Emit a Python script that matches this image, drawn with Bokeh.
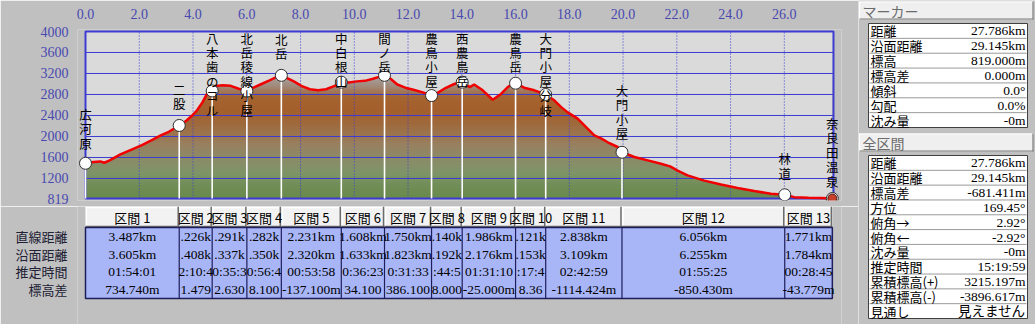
import numpy as np
from bokeh.plotting import figure
from bokeh.models import Range1d, FixedTicker, PrintfTickFormatter, Label
from bokeh.layouts import row, column
from bokeh.core.properties import value
from bokeh.embed import file_html
from bokeh.resources import INLINE

# ---------------- data ----------------
profile_km = [0.00, 0.30, 0.55, 0.70, 0.90, 1.30, 1.80, 2.10, 2.45, 2.80, 3.10, 3.49, 3.75, 3.95,
              4.15, 4.35, 4.55, 4.71, 4.85, 5.10, 5.40, 5.70, 6.00, 6.25, 6.55, 6.85, 7.10, 7.29,
              7.50, 7.75, 8.05, 8.35, 8.65, 8.95, 9.25, 9.52, 9.80, 10.10, 10.40, 10.70, 10.95,
              11.13, 11.35, 11.60, 11.90, 12.20, 12.55, 12.88, 13.10, 13.35, 13.72, 14.02, 14.30,
              14.46, 14.78, 15.15, 15.46, 15.73, 16.00, 16.32, 16.70, 17.12, 17.44, 17.70, 17.94,
              18.31, 18.68, 18.93, 19.20, 19.43, 19.80, 19.96, 20.42, 20.92, 21.41, 21.75, 22.03,
              22.40, 23.02, 23.64, 24.26, 24.88, 25.50, 26.02, 26.37, 26.90, 27.36, 27.79]
profile_m = [1490, 1515, 1525, 1500, 1545, 1660, 1770, 1835, 1925, 2020, 2090, 2210, 2300, 2390,
             2500, 2650, 2840, 2900, 2960, 2975, 2965, 2910, 2870, 2930, 3000, 3070, 3130, 3165,
             3110, 3050, 2960, 2900, 2880, 2900, 2960, 3035, 3030, 3050, 3060, 3100, 3140,
             3165, 3100, 2990, 2930, 2890, 2840, 2780, 2830, 2910, 3000, 3035, 2940,
             2990, 2880, 2700, 2810, 2950, 3015, 2930, 2880, 2800, 2690, 2560, 2460,
             2340, 2150, 2020, 1960, 1890, 1800, 1700, 1610, 1545, 1480, 1430, 1350,
             1260, 1160, 1085, 1020, 960, 910, 890, 845, 835, 830, 819]

waypoint_names = ["広河原", "二股", "八本歯のコル", "北岳稜線小屋", "北岳", "中白根山", "間ノ岳",
                  "農鳥小屋", "西農鳥岳", "農鳥岳", "大門小屋分岐", "大門小屋", "林道", "奈良田温泉"]
waypoint_m = [1490, 2210, 2868, 2865, 3165, 3035, 3165, 2780, 3035, 3015, 2800, 1700, 889, 819]

section_names = ["区間 1", "区間 2", "区間 3", "区間 4", "区間 5", "区間 6", "区間 7",
                 "区間 8", "区間 9", "区間 10", "区間 11", "区間 12", "区間 13"]
section_straight_km = [3.487, 1.226, 1.291, 1.282, 2.231, 1.608, 1.750, 1.140, 1.986, 1.121,
                       2.838, 6.056, 1.771]

row_labels = ["直線距離", "沿面距離", "推定時間", "標高差"]
straight_text = ["3.487km", ".226k", ".291k", ".282k", "2.231km", "1.608km", "1.750km", ".140k",
                 "1.986km", ".121k", "2.838km", "6.056km", "1.771km"]
surface_text = ["3.605km", ".408k", ".337k", ".350k", "2.320km", "1.633km", "1.823km", ".192k",
                "2.176km", ".153k", "3.109km", "6.255km", "1.784km"]
time_text = ["01:54:01", "2:10:4", "0:35:3", "0:56:4", "00:53:58", "0:36:23", "0:31:33", ":44:5",
             "01:31:10", ":17:4", "02:42:59", "01:55:25", "00:28:45"]
diff_text = ["734.740m", "1.479", "2.630", "8.100", "-137.100m", "34.100", "386.100", "8.000",
             "-25.000m", "8.36", "-1114.424m", "-850.430m", "-43.779m"]

x_ticks = [0, 2, 4, 6, 8, 10, 12, 14, 16, 18, 20, 22, 24, 26]
y_ticks = [819, 1200, 1600, 2000, 2400, 2800, 3200, 3600, 4000]

marker_title = "マーカー"
marker_labels = ["距離", "沿面距離", "標高", "標高差", "傾斜", "勾配", "沈み量"]
marker_values = ["27.786km", "29.145km", "819.000m", "0.000m", "0.0°", "0.0%", "-0m"]
total_title = "全区間"
total_labels = ["距離", "沿面距離", "標高差", "方位", "俯角→", "俯角←", "沈み量", "推定時間",
                "累積標高(+)", "累積標高(-)", "見通し"]
total_values = ["27.786km", "29.145km", "-681.411m", "169.45°", "2.92°", "-2.92°", "-0m",
                "15:19:59", "3215.197m", "-3896.617m", "見えません"]

# ---------------- style / layout ----------------
BG = "#c0c0c0"
PLOT_BG = "#dadada"
BLUE = "#3c3cd2"
TICK_BLUE = "#4848b0"
JP = "Noto Sans CJK JP"
SERIF = "Liberation Serif"
VAL_FONT = "'Liberation Serif', 'Noto Sans CJK JP'"

W_LEFT, H_PROF, H_TAB, W_SIDE, H_ALL = 858, 206, 118, 177, 324
BOX_L, BOX_R, BOX_T, BOX_B = 85, 833, 31, 198
FR_L, FR_R, FR_T, FR_B = 77, 841, 29, 200
X_END = 27.83
Y_MIN, Y_MAX = y_ticks[0], y_ticks[-1]
PPK = (BOX_R - BOX_L) / X_END
PPM = (BOX_B - BOX_T) / (Y_MAX - Y_MIN)
PXK = 1.0 / PPK
CHAR_STEP = 13.0

x_range = Range1d(-(BOX_L - FR_L) / PPK, X_END + (FR_R - BOX_R) / PPK)
y_range = Range1d(Y_MIN - (FR_B - BOX_B) / PPM, Y_MAX + (BOX_T - FR_T) / PPM)

wp_x = np.concatenate([[0.0], np.cumsum(section_straight_km)])

# ---------------- profile figure ----------------
p = figure(width=W_LEFT, height=H_PROF, x_range=x_range, y_range=y_range,
           output_backend="svg", toolbar_location=None, title=None,
           x_axis_location="above", min_border_left=FR_L, min_border_right=W_LEFT - FR_R,
           min_border_top=FR_T, min_border_bottom=H_PROF - FR_B,
           background_fill_color=BG, border_fill_color=BG, outline_line_color=None)
p.xgrid.visible = False
p.ygrid.visible = False
p.xaxis.ticker = FixedTicker(ticks=x_ticks)
p.xaxis.formatter = PrintfTickFormatter(format="%.1f")
p.yaxis.ticker = FixedTicker(ticks=y_ticks)
for ax in (p.xaxis[0], p.yaxis[0]):
    ax.axis_line_color = None
    ax.major_tick_line_color = None
    ax.minor_tick_line_color = None
    ax.major_label_text_font = SERIF
    ax.major_label_text_font_size = "14px"
    ax.major_label_text_color = TICK_BLUE
p.xaxis.major_label_standoff = 5
p.yaxis.major_label_standoff = 3

p.add_layout(Label(x=0, y=Y_MAX, x_offset=-83, y_offset=-2, text="[m]", text_font=SERIF,
                   text_font_size="13px", text_color=TICK_BLUE, text_baseline="middle"))
p.add_layout(Label(x=X_END, y=Y_MAX, x_offset=2, y_offset=14, text="[km]", text_font=SERIF,
                   text_font_size="12px", text_color=TICK_BLUE, text_baseline="middle"))

# plot area background
p.quad(left=0, right=X_END, bottom=Y_MIN, top=Y_MAX, fill_color=PLOT_BG, line_color=None)

# elevation-coloured gradient under the profile
GRAD_M = [819, 1000, 1300, 1550, 1850, 2200, 2500, 2750, 2950, 3150, 4000]
GRAD_C = ["#6a8a4c", "#6e8c52", "#7e9468", "#8a8c68", "#988060", "#9e6c40", "#a45e2c",
          "#a46430", "#a08878", "#a8a2a2", "#c4c4c4"]
H = 400
ys = Y_MIN + (np.arange(H) + 0.5) / H * (Y_MAX - Y_MIN)
rgb = np.array([[int(c[i:i + 2], 16) for i in (1, 3, 5)] for c in GRAD_C], dtype=float)
img = np.zeros((H, 2), dtype=np.uint32)
view = img.view(dtype=np.uint8).reshape((H, 2, 4))
for k in range(3):
    view[:, :, k] = np.interp(ys, GRAD_M, rgb[:, k]).round().astype(np.uint8)[:, None]
view[:, :, 3] = 255
p.image_rgba(image=[img], x=0, y=Y_MIN, dw=profile_km[-1], dh=Y_MAX - Y_MIN)
p.varea(x=profile_km, y1=profile_m, y2=Y_MAX, fill_color=PLOT_BG)

# grid lines
p.segment(x0=0, x1=X_END, y0=y_ticks[1:-1], y1=y_ticks[1:-1], line_color=BLUE, line_width=1)
p.segment(x0=x_ticks[1:], x1=x_ticks[1:], y0=Y_MIN, y1=Y_MAX, line_color=BLUE,
          line_width=1, line_dash="1 2")
# frame border
p.quad(left=0, right=X_END, bottom=Y_MIN, top=Y_MAX, fill_color=None, line_color=BLUE,
       line_width=2)

# waypoint drop lines, profile, markers
p.segment(x0=wp_x, x1=wp_x, y0=waypoint_m, y1=Y_MIN, line_color="white", line_width=1.6)
p.line(profile_km, profile_m, line_color="#f00000", line_width=2.5)
p.scatter(wp_x, waypoint_m, size=12, fill_color="white", line_color="#303030", line_width=1)
p.scatter([wp_x[-1]], [waypoint_m[-1]], size=9, fill_color="#c8402c", line_color="#4a1a10",
          line_width=1)

# vertical waypoint labels
lab_top = []
for name, e in zip(waypoint_names, waypoint_m):
    py = BOX_T + (Y_MAX - e) * PPM
    top_px = max(BOX_T - 3, py - 26 + CHAR_STEP / 2 - len(name) * CHAR_STEP)
    lab_top.append(Y_MAX - (top_px - BOX_T) / PPM)
p.text(x=wp_x, y=lab_top, text=["\n".join(n) for n in waypoint_names],
       text_font=value(JP), text_font_size="12.5px", text_color="black",
       text_align="center", text_baseline="top", text_line_height=0.76)

# ---------------- section table ----------------
ROW_PX, HDR_PX, TAB_TOP = 17.75, 21.0, 0.0
hdr_top = 0.5 - HDR_PX / ROW_PX
t_end = hdr_top - TAB_TOP / ROW_PX
t_start = 4.5 + (H_TAB - (TAB_TOP + HDR_PX + 4 * ROW_PX)) / ROW_PX
PXR = 1.0 / ROW_PX

t = figure(width=W_LEFT, height=H_TAB, x_range=x_range, y_range=Range1d(t_start, t_end),
           output_backend="svg", toolbar_location=None, title=None, x_axis_location=None,
           min_border_left=FR_L, min_border_right=W_LEFT - FR_R, min_border_top=0,
           min_border_bottom=0, background_fill_color=BG, border_fill_color=BG,
           outline_line_color=None)
t.xgrid.visible = False
t.ygrid.visible = False
t.yaxis.ticker = FixedTicker(ticks=[1, 2, 3, 4])
t.yaxis.major_label_overrides = {i + 1: lab for i, lab in enumerate(row_labels)}
t.yaxis.axis_line_color = None
t.yaxis.major_tick_line_color = None
t.yaxis.minor_tick_line_color = None
t.yaxis.major_label_text_font = JP
t.yaxis.major_label_text_font_size = "13px"
t.yaxis.major_label_text_color = "#202034"
t.yaxis.major_label_standoff = 4

col_l = wp_x[:-1]
col_r = wp_x[1:]
col_c = (col_l + col_r) / 2

# header buttons
t.quad(left=col_l, right=col_r, top=hdr_top, bottom=0.5, fill_color="#f2f2f2", line_color=None)
t.segment(x0=col_l, x1=col_r, y0=hdr_top + PXR, y1=hdr_top + PXR, line_color="white", line_width=1.5)
t.segment(x0=col_l + PXK, x1=col_l + PXK, y0=hdr_top, y1=0.5, line_color="white", line_width=1.5)
t.segment(x0=col_r - PXK, x1=col_r - PXK, y0=hdr_top, y1=0.5, line_color="#6c6c6c", line_width=1.5)
t.segment(x0=col_l, x1=col_r, y0=0.5 - PXR, y1=0.5 - PXR, line_color="#6c6c6c", line_width=1.5)
t.text(x=col_c, y=(hdr_top + 0.5) / 2, text=section_names, text_font=value(JP),
       text_font_size="13px", text_color="black", text_align="center", text_baseline="middle")

# data area
t.quad(left=0, right=wp_x[-1], top=0.5, bottom=4.5, fill_color="#a8b6f8",
       line_color="#1e1e5a", line_width=1.5)
t.segment(x0=wp_x[1:-1], x1=wp_x[1:-1], y0=0.5, y1=4.5, line_color="#1e1e5a", line_width=1.2)
for r, txts in enumerate([straight_text, surface_text, time_text, diff_text]):
    t.text(x=col_c, y=r + 1, text=txts, text_font=value(SERIF), text_font_size="13.5px",
           text_color="black", text_align="center", text_baseline="middle")

# ---------------- side panel ----------------
s = figure(width=W_SIDE, height=H_ALL, x_range=Range1d(0, W_SIDE), y_range=Range1d(H_ALL, 0),
           output_backend="svg", toolbar_location=None, title=None,
           x_axis_location=None, y_axis_location=None, min_border=0,
           background_fill_color=BG, border_fill_color=BG, outline_line_color=None)
s.xgrid.visible = False
s.ygrid.visible = False

def panel(title, labels, values, head_top, box_top, box_bottom):
    hb = head_top + 18
    s.quad(left=1, right=175, top=head_top, bottom=hb, fill_color="#efefef", line_color=None)
    s.segment(x0=[1, 1], x1=[175, 1], y0=[head_top + 0.5, head_top], y1=[head_top + 0.5, hb],
              line_color="white", line_width=1.2)
    s.segment(x0=[1, 174.5], x1=[175, 174.5], y0=[hb - 0.5, head_top], y1=[hb - 0.5, hb],
              line_color="#7a7a7a", line_width=1.2)
    s.text(x=[4], y=[(head_top + hb) / 2], text=[title], text_font=value(JP),
           text_font_size="14px", text_color="#6c6c6c", text_baseline="middle")
    n = len(labels)
    rh = (box_bottom - box_top) / n
    s.quad(left=10, right=169, top=box_top, bottom=box_bottom, fill_color="white",
           line_color="#404040", line_width=1)
    seps = [box_top + rh * (i + 1) for i in range(n - 1)]
    s.segment(x0=11, x1=168, y0=seps, y1=seps, line_color="#9a9a9a", line_width=1)
    yc = [box_top + rh * (i + 0.5) for i in range(n)]
    s.text(x=12, y=yc, text=labels, text_font=value(JP), text_font_size="13px",
           text_color="black", text_baseline="middle")
    s.text(x=167, y=yc, text=values, text_font=value(VAL_FONT), text_font_size="13.5px",
           text_color="black", text_align="right", text_baseline="middle")

panel(marker_title, marker_labels, marker_values, 1, 23, 127)
panel(total_title, total_labels, total_values, 133, 155, 318)

layout = row(column(p, t), s)
open("out.html", "w").write(file_html(layout, INLINE))
